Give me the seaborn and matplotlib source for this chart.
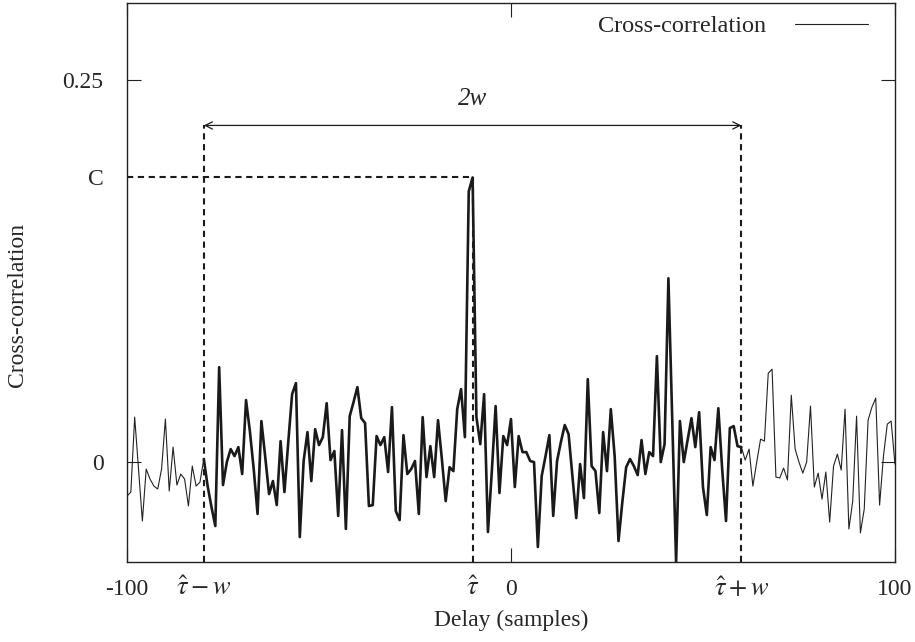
import numpy as np
import pandas as pd
import matplotlib
matplotlib.use("Agg")
import matplotlib.pyplot as plt
import seaborn as sns

# delay axis and the cross-correlation
delays = np.arange(-100, 101)
xcorr = [
    -0.0222, -0.0196, 0.0294, -0.0046, -0.0385, -0.0046, -0.0111, -0.0157, -0.0176, -0.0046,
    0.0281, -0.0189, 0.0098, -0.0150, -0.0078, -0.0111, -0.0287, -0.0026, -0.0157, -0.0131,
    0.0020, -0.0157, -0.0294, -0.0418, 0.0620, -0.0150, 0.0, 0.0085, 0.0039, 0.0098,
    -0.0078, 0.0405, 0.0202, -0.0046, -0.0339, 0.0268, 0.0033, -0.0209, -0.0124, -0.0281,
    0.0137, -0.0196, 0.0131, 0.0444, 0.0516, -0.0490, 0.0007, 0.0196, -0.0124, 0.0215,
    0.0111, 0.0163, 0.0385, 0.0013, 0.0072, -0.0352, 0.0209, -0.0437, 0.0300, 0.0392,
    0.0490, 0.0287, 0.0255, -0.0287, -0.0281, 0.0170, 0.0111, 0.0163, -0.0065, 0.0359,
    -0.0320, -0.0379, 0.0176, -0.0078, -0.0046, 0.0007, -0.0339, 0.0294, -0.0098, 0.0104,
    -0.0098, 0.0274, 0.0020, -0.0255, -0.0033, -0.0059, 0.0346, 0.0477, 0.0163, 0.1769,
    0.1860, 0.0294, 0.0117, 0.0444, -0.0457, -0.0065, 0.0366, -0.0202, 0.0170, 0.0111,
    0.0281, -0.0163, 0.0170, 0.0065, 0.0065, 0.0007, 0.0, -0.0555, -0.0091, 0.0039,
    0.0176, -0.0352, 0.0007, 0.0131, 0.0242, 0.0183, -0.0091, -0.0366, -0.0013, -0.0235,
    0.0542, -0.0026, -0.0059, -0.0333, 0.0196, -0.0059, 0.0346, 0.0039, -0.0516, -0.0261,
    -0.0033, 0.0020, -0.0026, -0.0085, 0.0144, -0.0078, 0.0065, 0.0039, 0.0692, 0.0,
    0.0117, 0.1201, 0.0281, -0.0653, 0.0268, 0.0, 0.0144, 0.0287, 0.0098, 0.0326,
    -0.0163, -0.0346, 0.0098, 0.0013, 0.0352, -0.0046, -0.0385, 0.0222, 0.0235, 0.0104,
    0.0098, 0.0013, 0.0085, -0.0157, 0.0, 0.0150, 0.0137, 0.0581, 0.0607, -0.0098,
    -0.0104, -0.0039, -0.0117, 0.0437, 0.0085, 0.0, -0.0072, 0.0, 0.0366, -0.0163,
    -0.0072, -0.0242, -0.0065, -0.0392, -0.0026, 0.0052, -0.0052, 0.0346, -0.0437, -0.0255,
    0.0300, -0.0463, -0.0307, 0.0274, 0.0359, 0.0418, -0.0281, 0.0039, 0.0248, 0.0268,
    -0.0013,
]

tau_hat = -10
w = 70
peak_c = 0.186
arrow_y = 0.22

x_ticks = [-100, 0, 100]
x_tick_labels = ["-100", "0", "100"]
x_marks = [tau_hat - w, tau_hat, tau_hat + w]
x_mark_labels = [r"$\hat{\tau} - w$", r"$\hat{\tau}$", r"$\hat{\tau} + w$"]
y_ticks = [0, 0.25]
y_tick_labels = ["0", "0.25"]

df = pd.DataFrame({"delay": delays, "xcorr": xcorr})
inside = df[(df.delay >= tau_hat - w) & (df.delay <= tau_hat + w)]
left = df[df.delay <= tau_hat - w]
right = df[df.delay >= tau_hat + w]

sns.set_theme(style="ticks")
plt.rcParams["font.family"] = ["Liberation Serif", "DejaVu Serif"]
plt.rcParams["mathtext.fontset"] = "stix"
fs = 17

fig = plt.figure(figsize=(9.15, 6.42), dpi=100)
ax = fig.add_axes([0.1388, 0.1246, 0.8393, 0.8707])

sns.lineplot(data=left, x="delay", y="xcorr", ax=ax, color="#222222", lw=0.8,
             estimator=None, label="Cross-correlation")
sns.lineplot(data=right, x="delay", y="xcorr", ax=ax, color="#222222", lw=0.8,
             estimator=None, legend=False)
sns.lineplot(data=inside, x="delay", y="xcorr", ax=ax, color="#1a1a1a", lw=1.9,
             estimator=None, legend=False)

# window markers
dash = dict(color="#1a1a1a", lw=1.5, ls=(0, (3.0, 2.2)))
ymin, ymax = -0.0653, 0.3
ax.plot([tau_hat - w, tau_hat - w], [ymin, arrow_y], **dash)
ax.plot([tau_hat + w, tau_hat + w], [ymin, arrow_y], **dash)
ax.plot([tau_hat, tau_hat], [ymin, peak_c], **dash)
ax.plot([-100, tau_hat], [peak_c, peak_c], **dash)
ax.annotate("", xy=(tau_hat - w, arrow_y), xytext=(tau_hat + w, arrow_y),
            arrowprops=dict(arrowstyle="<->", lw=0.9, color="#1a1a1a",
                            shrinkA=0, shrinkB=0, mutation_scale=13))
ax.text(tau_hat, 0.2376, "2w", ha="center", va="center", fontsize=fs + 1, style="italic")

ax.set_xlim(-100, 100)
ax.set_ylim(ymin, ymax)
ax.set_xticks(x_ticks, x_tick_labels)
ax.set_xticks(x_marks, x_mark_labels, minor=True)
ax.set_yticks(y_ticks, y_tick_labels)
ax.set_yticks([peak_c], ["C"], minor=True)
ax.tick_params(which="major", direction="in", length=10, width=0.8,
               top=True, right=True, labelsize=fs, color="#222222")
ax.tick_params(which="minor", length=0, labelsize=fs)
ax.tick_params(axis="x", which="minor", labelsize=fs + 2, pad=10)
ax.tick_params(axis="x", which="major", pad=12)
ax.tick_params(axis="y", which="both", pad=17)
for s in ax.spines.values():
    s.set_linewidth(1.0)
    s.set_color("#222222")

ax.set_xlabel("Delay (samples)", fontsize=fs, va="center")
ax.xaxis.set_label_coords(0.5, -0.104)
ax.set_ylabel("Cross-correlation", fontsize=fs, va="center")
ax.yaxis.set_label_coords(-0.143, 0.46)

ax.legend(loc="upper right", bbox_to_anchor=(0.965, 0.978), frameon=False,
          markerfirst=False, fontsize=fs + 0.5, handlelength=3.0, handletextpad=1.2,
          borderpad=0, borderaxespad=0)

fig.savefig("out.png", dpi=100)
